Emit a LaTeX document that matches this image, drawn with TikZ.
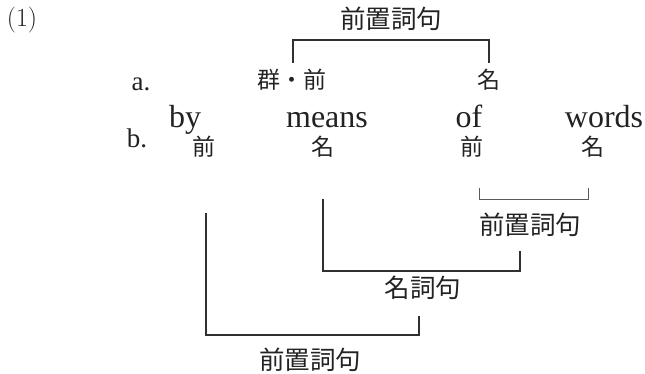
\documentclass[tikz,border=0pt]{standalone}
\usepackage{fontspec}
\setmainfont{Liberation Serif}
\newfontfamily\jp{Noto Sans CJK JP}
\newfontfamily\lmr{Latin Modern Roman}
\definecolor{ink}{HTML}{222222}
\definecolor{rule}{HTML}{303030}
\begin{document}
\begin{tikzpicture}[x=1pt,y=-1pt,
  lat/.style={inner sep=0pt, anchor=base, text=ink, font=\fontsize{32}{33}\selectfont},
  itemlabel/.style={inner sep=0pt, anchor=base, text=ink, font=\fontsize{27}{28}\selectfont},
  postag/.style={inner sep=0pt, text=ink, font=\jp\fontsize{23}{24}\selectfont},
  phrase/.style={inner sep=0pt, text=ink, font=\jp\fontsize{25.5}{26}\selectfont},
  bracket/.style={draw=rule, line width=2.6pt, line join=miter},
  thinbracket/.style={draw=rule!80, line width=1pt, line join=miter}]
\useasboundingbox (0,0) rectangle (645,374);
% number
\node[inner sep=0pt, text=ink, font=\lmr\fontsize{26}{27}\selectfont] (num) at (22,20) {(1)};
% a. line
\node[phrase] (ptop) at (391,19) {前置詞句};
\node[itemlabel] (amark) at (141,91) {a.};
\node[postag] (agp) at (292,80) {群・前};
\node[postag] (anoun) at (489,80) {名};
% words
\node[lat] (by) at (185,128) {by};
\node[lat] (means) at (327,128) {means};
\node[lat] (of) at (469,128) {of};
\node[lat] (words) at (604,128) {words};
% b. line
\node[itemlabel] (bmark) at (137,148) {b.};
\node[postag] (bp1) at (204,147) {前};
\node[postag] (bn1) at (323,147) {名};
\node[postag] (bp2) at (472,147) {前};
\node[postag] (bn2) at (593,147) {名};
% lower labels
\node[phrase] (pmid) at (530,225) {前置詞句};
\node[phrase] (np) at (423,288) {名詞句};
\node[phrase] (pbot) at (310,360) {前置詞句};
% top bracket
\coordinate (t1) at (293,63);
\coordinate (t2) at (489,63);
\draw[bracket] (t1) -- ++(0,-23) -| (t2);
% small bracket (of words)
\coordinate (s1) at (479,188);
\coordinate (s2) at (588,188);
\draw[thinbracket] (s1) -- ++(0,12) -| (s2);
% means + PP -> NP
\coordinate (m1) at (323,199);
\coordinate (m2) at (520,251);
\draw[bracket] (m1) -- ++(0,72) -| (m2);
% by + NP -> PP
\coordinate (b1) at (206,213);
\coordinate (b2) at (419,316);
\draw[bracket] (b1) -- ++(0,122) -| (b2);
\end{tikzpicture}
\end{document}
